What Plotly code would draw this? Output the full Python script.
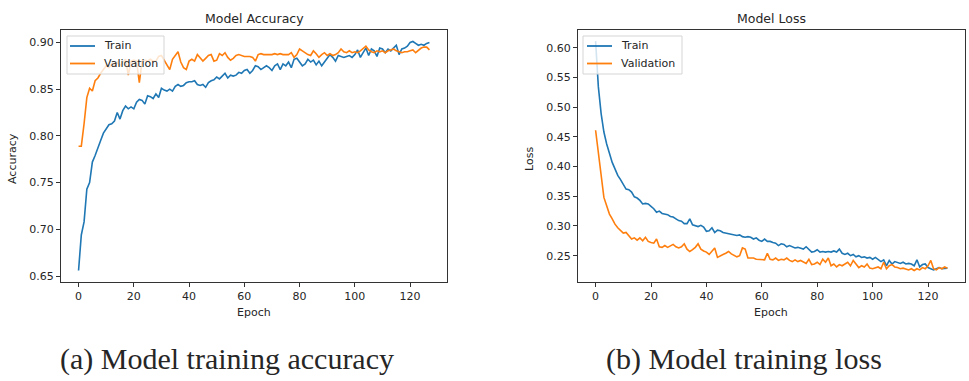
import plotly.graph_objects as go

epochs = list(range(128))

acc_train = [0.656,0.694,0.708,0.743,0.750,0.772,0.779,0.786,0.795,0.803,
             0.807,0.812,0.813,0.816,0.825,0.818,0.827,0.832,0.829,0.831,
             0.829,0.836,0.839,0.838,0.834,0.843,0.842,0.840,0.845,0.841,
             0.851,0.849,0.848,0.850,0.848,0.853,0.855,0.853,0.854,0.857,
             0.858,0.858,0.859,0.855,0.854,0.855,0.852,0.857,0.859,0.860,
             0.863,0.861,0.864,0.867,0.862,0.865,0.864,0.865,0.868,0.867,
             0.870,0.871,0.867,0.870,0.875,0.874,0.871,0.873,0.875,0.873,
             0.870,0.875,0.877,0.871,0.877,0.875,0.879,0.873,0.882,0.883,
             0.879,0.875,0.877,0.882,0.879,0.881,0.876,0.880,0.875,0.879,
             0.882,0.887,0.884,0.880,0.886,0.885,0.884,0.885,0.886,0.884,
             0.887,0.892,0.884,0.889,0.894,0.886,0.893,0.891,0.885,0.894,
             0.893,0.889,0.893,0.891,0.894,0.897,0.887,0.893,0.894,0.896,
             0.900,0.901,0.899,0.897,0.898,0.897,0.899,0.900]

acc_val = [0.789,0.789,0.813,0.841,0.851,0.848,0.859,0.862,0.867,0.871,
           0.875,0.873,0.877,0.875,0.879,0.875,0.879,0.882,0.865,0.880,
           0.881,0.880,0.857,0.880,0.881,0.880,0.882,0.880,0.880,0.885,
           0.886,0.881,0.875,0.871,0.882,0.886,0.890,0.879,0.873,0.871,
           0.880,0.882,0.880,0.887,0.883,0.880,0.883,0.886,0.887,0.880,
           0.881,0.888,0.886,0.889,0.884,0.881,0.883,0.886,0.887,0.886,
           0.885,0.885,0.885,0.884,0.880,0.887,0.888,0.887,0.887,0.887,
           0.887,0.888,0.887,0.888,0.887,0.887,0.887,0.889,0.884,0.887,
           0.893,0.891,0.889,0.887,0.886,0.891,0.888,0.884,0.887,0.889,
           0.886,0.888,0.886,0.887,0.889,0.893,0.890,0.889,0.891,0.889,
           0.890,0.889,0.891,0.894,0.896,0.892,0.890,0.889,0.891,0.890,
           0.891,0.889,0.891,0.892,0.893,0.891,0.890,0.889,0.890,0.890,
           0.891,0.892,0.889,0.892,0.894,0.895,0.895,0.892]

loss_train = [0.611,0.534,0.489,0.458,0.438,0.420,0.407,0.396,0.385,0.378,
              0.370,0.362,0.361,0.357,0.349,0.347,0.343,0.337,0.338,0.337,
              0.333,0.329,0.323,0.325,0.321,0.320,0.319,0.316,0.315,0.312,
              0.309,0.308,0.304,0.304,0.312,0.302,0.301,0.299,0.301,0.298,
              0.291,0.292,0.297,0.289,0.293,0.292,0.289,0.288,0.288,0.287,
              0.285,0.284,0.285,0.282,0.281,0.282,0.281,0.278,0.280,0.276,
              0.274,0.278,0.274,0.274,0.272,0.271,0.267,0.270,0.269,0.265,
              0.267,0.265,0.263,0.264,0.263,0.261,0.265,0.261,0.256,0.257,
              0.260,0.256,0.257,0.256,0.257,0.256,0.258,0.256,0.261,0.254,
              0.252,0.254,0.250,0.252,0.248,0.250,0.247,0.248,0.246,0.247,
              0.244,0.247,0.243,0.240,0.243,0.233,0.242,0.236,0.240,0.239,
              0.237,0.239,0.236,0.237,0.236,0.233,0.243,0.231,0.235,0.236,
              0.230,0.228,0.226,0.228,0.230,0.228,0.229,0.229]

loss_val = [0.461,0.421,0.382,0.348,0.334,0.320,0.312,0.303,0.297,0.292,
            0.288,0.289,0.284,0.278,0.280,0.276,0.280,0.275,0.281,0.274,
            0.272,0.271,0.278,0.265,0.264,0.267,0.264,0.267,0.269,0.265,
            0.263,0.265,0.270,0.261,0.257,0.260,0.264,0.270,0.261,0.258,
            0.256,0.252,0.258,0.263,0.247,0.250,0.252,0.254,0.257,0.253,
            0.250,0.248,0.250,0.263,0.261,0.246,0.246,0.246,0.244,0.244,
            0.244,0.243,0.254,0.244,0.243,0.246,0.242,0.244,0.243,0.246,
            0.242,0.240,0.243,0.240,0.242,0.239,0.237,0.244,0.235,0.236,
            0.239,0.235,0.244,0.239,0.246,0.233,0.236,0.231,0.235,0.233,
            0.236,0.239,0.233,0.242,0.236,0.230,0.233,0.231,0.236,0.229,
            0.228,0.230,0.231,0.228,0.239,0.228,0.233,0.235,0.231,0.230,
            0.228,0.229,0.228,0.226,0.228,0.225,0.228,0.226,0.230,0.228,
            0.233,0.242,0.228,0.226,0.230,0.228,0.231,0.229]

x_ticks = [0, 20, 40, 60, 80, 100, 120]
acc_ticks = [0.65, 0.70, 0.75, 0.80, 0.85, 0.90]
loss_ticks = [0.25, 0.30, 0.35, 0.40, 0.45, 0.50, 0.55, 0.60]
series_names = ["Train", "Validation"]

BLUE = "#1f77b4"
ORANGE = "#ff7f0e"
TXT = "#262626"
W, H = 969, 381

fig = go.Figure()
fig.add_trace(go.Scatter(x=epochs, y=acc_train, mode="lines", name=series_names[0],
                         line=dict(color=BLUE, width=1.6), xaxis="x", yaxis="y"))
fig.add_trace(go.Scatter(x=epochs, y=acc_val, mode="lines", name=series_names[1],
                         line=dict(color=ORANGE, width=1.6), xaxis="x", yaxis="y"))
fig.add_trace(go.Scatter(x=epochs, y=loss_train, mode="lines", name=series_names[0],
                         line=dict(color=BLUE, width=1.6), xaxis="x2", yaxis="y2"))
fig.add_trace(go.Scatter(x=epochs, y=loss_val, mode="lines", name=series_names[1],
                         line=dict(color=ORANGE, width=1.6), xaxis="x2", yaxis="y2"))

def px(v):
    return v / W

def py(v):
    return 1 - v / H

axis_common = dict(showgrid=False, zeroline=False, showline=True, mirror=True,
                   linecolor="#333333", linewidth=1, ticks="outside", ticklen=4,
                   tickcolor="#333333", tickfont=dict(family="DejaVu Sans", size=11, color=TXT))

fig.update_layout(
    width=W, height=H,
    margin=dict(l=0, r=0, t=0, b=0),
    paper_bgcolor="white", plot_bgcolor="white",
    showlegend=False,
    xaxis=dict(domain=[px(61), px(447)], range=[-6.35, 133.35], tickvals=x_ticks,
               anchor="y", **axis_common),
    yaxis=dict(domain=[py(282), py(30)], range=[0.6437, 0.9133], tickvals=acc_ticks,
               tickformat=".2f", anchor="x", **axis_common),
    xaxis2=dict(domain=[px(578), px(965)], range=[-6.35, 133.35], tickvals=x_ticks,
                anchor="y2", **axis_common),
    yaxis2=dict(domain=[py(282), py(30)], range=[0.2057, 0.6297], tickvals=loss_ticks,
                tickformat=".2f", anchor="x2", **axis_common),
)

def ann(text, x, y, size, angle=0, family="DejaVu Sans", xanchor="center"):
    fig.add_annotation(text=text, x=px(x), y=py(y), xref="paper", yref="paper",
                       showarrow=False, textangle=angle, xanchor=xanchor, yanchor="middle",
                       font=dict(family=family, size=size, color=TXT))

# legends (drawn manually to match matplotlib's compact legend box)
def legend_box(x0, x1, y0, y1, line_x0, line_x1, text_x, rows):
    fig.add_shape(type="rect", xref="paper", yref="paper", layer="above",
                  x0=px(x0), x1=px(x1), y0=py(y1), y1=py(y0),
                  line=dict(color="#d5d5d5", width=1),
                  fillcolor="rgba(255,255,255,0.8)")
    for (name, color, yy) in rows:
        fig.add_shape(type="line", xref="paper", yref="paper", layer="above",
                      x0=px(line_x0), x1=px(line_x1), y0=py(yy), y1=py(yy),
                      line=dict(color=color, width=1.8))
        ann(name, text_x, yy, 11, xanchor="left")

legend_box(67, 164, 36, 74, 70, 95, 102,
           [(series_names[0], BLUE, 46), (series_names[1], ORANGE, 63.5)])
legend_box(583, 682, 36, 74, 587, 612, 619,
           [(series_names[0], BLUE, 46), (series_names[1], ORANGE, 63.5)])

ann("Model Accuracy", 254, 18, 12.5)
ann("Model Loss", 771, 18, 12.5)
ann("Epoch", 254, 312, 11)
ann("Epoch", 771, 312, 11)
ann("Accuracy", 13, 159, 11, -90)
ann("Loss", 530, 159, 11, -90)
ann("(a) Model training accuracy", 227, 359, 30, family="Liberation Serif")
ann("(b) Model training loss", 744, 359, 30, family="Liberation Serif")

fig.write_html("out.html")
